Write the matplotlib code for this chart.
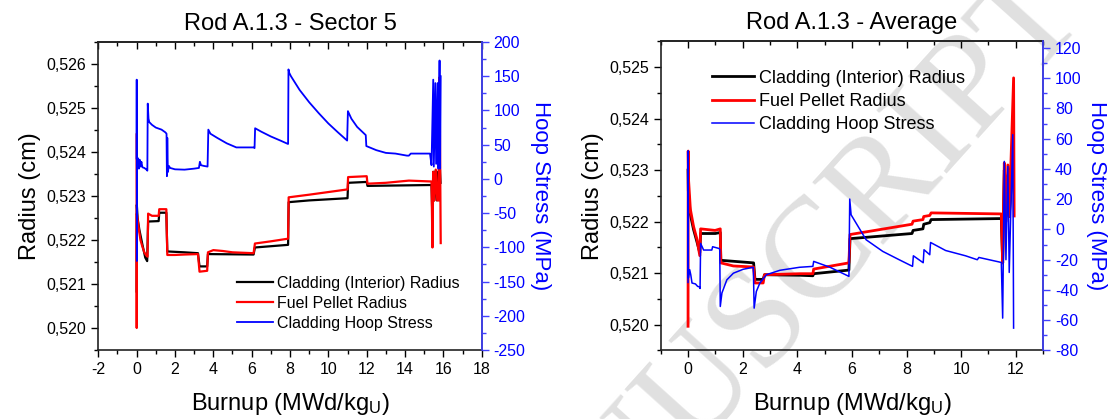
import numpy as np
import matplotlib
matplotlib.use('Agg')
import matplotlib.pyplot as plt
from matplotlib.ticker import MultipleLocator, FuncFormatter

plt.rcParams['font.family'] = ['Liberation Sans', 'DejaVu Sans']
plt.rcParams['mathtext.fontset'] = 'custom'
plt.rcParams['mathtext.rm'] = 'Liberation Sans'
plt.rcParams['mathtext.it'] = 'Liberation Sans:italic'
plt.rcParams['axes.unicode_minus'] = False

# ---- Rod A.1.3 - Sector 5 ----
s5_clad_x = [0.0, 0.01, 0.05, 0.14, 0.3, 0.45, 0.55, 0.6, 1.15, 1.18, 1.55, 1.6, 2.5, 3.2, 3.28,
             3.68, 3.72, 6.1, 6.17, 7.9, 7.93, 9.0, 11.0, 11.03, 12.0, 12.04, 15.38, 15.42,
             15.47, 15.52, 15.6, 15.66, 15.72, 15.78, 15.82, 15.85]
s5_clad_r = [0.52083, 0.5228, 0.5225, 0.52224, 0.5219, 0.5216, 0.52152, 0.52242, 0.52243, 0.52262,
             0.52262, 0.52174, 0.52172, 0.5217, 0.5214, 0.5214, 0.52168, 0.52167, 0.52183, 0.52189,
             0.52286, 0.5229, 0.52295, 0.5233, 0.52332, 0.52323, 0.52325, 0.5226, 0.52355, 0.5229,
             0.52358, 0.5229, 0.52355, 0.5229, 0.5236, 0.5233]

s5_fuel_x = [0.0, 0.005, 0.015, 0.1, 0.2, 0.3, 0.4, 0.5, 0.57, 0.6, 0.8, 1.15, 1.18, 1.55, 1.6, 2.0,
             2.5, 3.2, 3.28, 3.68, 3.72, 4.0, 4.5, 5.0, 6.1, 6.17, 7.0, 7.9, 7.93, 9.0, 11.0, 11.03,
             12.0, 12.04, 13.0, 14.2, 15.38, 15.43, 15.47, 15.53, 15.6, 15.68, 15.74, 15.8, 15.86]
s5_fuel_r = [0.5244, 0.5200, 0.5226, 0.5223, 0.5220, 0.52185, 0.52172, 0.52165, 0.52162, 0.5226,
             0.52255, 0.52255, 0.5227, 0.5227, 0.52166, 0.52166, 0.52167, 0.52168, 0.52128, 0.5213,
             0.52172, 0.52177, 0.52175, 0.52172, 0.5217, 0.52192, 0.52197, 0.52203, 0.52297,
             0.52303, 0.52315, 0.52343, 0.52345, 0.52328, 0.5233, 0.52335, 0.52333, 0.52183,
             0.52355, 0.5229, 0.5236, 0.5229, 0.5229, 0.5257, 0.52193]

s5_hoop_x = [0.0, 0.005, 0.012, 0.02, 0.05, 0.08, 0.12, 0.16, 0.2, 0.25, 0.3, 0.4, 0.5, 0.56, 0.58,
             0.62, 0.66, 0.8, 1.0, 1.2, 1.3, 1.5, 1.56, 1.58, 1.6, 1.63, 1.68, 1.75, 2.0, 2.5, 3.0,
             3.25, 3.3, 3.36, 3.5, 3.7, 3.74, 3.85, 4.2, 4.7, 5.2, 6.1, 6.15, 6.18, 6.5, 7.0, 7.5,
             7.9, 7.92, 7.96, 8.05, 8.5, 9.0, 9.5, 10.0, 10.5, 10.98, 11.02, 11.2, 11.5, 11.95,
             11.98, 12.5, 13.0, 13.5, 14.1, 14.2, 14.3, 15.3, 15.38, 15.47, 15.5, 15.58, 15.62,
             15.7, 15.74, 15.8, 15.83, 15.86]
s5_hoop_s = [30, 145, -120, 35, 20, 30, 15, 28, 18, 25, 17, 16, 14, 12, 110, 88, 83, 79, 75, 73, 72,
             68, 66, 4, 60, 10, 19, 16, 14, 13.5, 15, 16, 25, 20, 19, 18, 72, 66, 60, 52, 46, 46, 45,
             74, 69, 62, 56, 51, 160, 155, 150, 130, 112, 96, 81, 68, 56, 99, 88, 76, 64, 48, 42, 38,
             37, 34, 34, 37, 37, 20, 145, 18, 140, 22, 140, 15, 173, 15, 150]

# ---- Rod A.1.3 - Average ----
av_clad_x = [0.0, 0.01, 0.08, 0.2, 0.33, 0.43, 0.46, 1.0, 1.18, 1.2, 2.4, 2.45, 2.75, 2.8, 4.09,
             4.57, 4.6, 5.89, 5.93, 8.2, 8.24, 8.6, 8.63, 8.85, 8.9, 11.47, 11.52, 11.58, 11.64,
             11.71, 11.76, 11.9]
av_clad_r = [0.5230, 0.5226, 0.52215, 0.52185, 0.5216, 0.5214, 0.52177, 0.52177, 0.52179, 0.52125,
             0.5212, 0.52088, 0.52088, 0.52097, 0.52096, 0.52095, 0.52099, 0.52106, 0.52167,
             0.52177, 0.52183, 0.52186, 0.52195, 0.52198, 0.52204, 0.52206, 0.5212, 0.5230,
             0.5221, 0.5229, 0.5221, 0.5232]

av_fuel_x = [0.0, 0.005, 0.02, 0.085, 0.2, 0.33, 0.43, 0.46, 0.99, 1.18, 1.2, 1.66, 2.4, 2.45, 2.75,
             2.8, 4.09, 4.57, 4.6, 5.89, 5.93, 8.2, 8.24, 8.6, 8.63, 8.85, 8.9, 11.47, 11.52, 11.58,
             11.64, 11.71, 11.76, 11.82, 11.92, 11.94]
av_fuel_r = [0.51997, 0.52337, 0.5228, 0.52224, 0.52191, 0.52165, 0.52134, 0.52186, 0.52183,
             0.52186, 0.5212, 0.52114, 0.52112, 0.52081, 0.52081, 0.52097, 0.52099, 0.52099,
             0.52108, 0.5212, 0.52175, 0.52195, 0.52201, 0.52204, 0.5221, 0.52212, 0.52217,
             0.52215, 0.5212, 0.52314, 0.5220, 0.5231, 0.5221, 0.5231, 0.52479, 0.52211]

av_hoop_x = [0.0, 0.005, 0.012, 0.06, 0.1, 0.145, 0.27, 0.35, 0.42, 0.44, 0.46, 0.57, 0.87, 0.9,
             1.12, 1.16, 1.18, 1.24, 1.42, 1.66, 2.02, 2.39, 2.42, 2.5, 2.63, 2.87, 3.36, 4.08, 4.57,
             4.6, 5.2, 5.89, 5.92, 5.97, 6.52, 7.13, 7.73, 8.22, 8.25, 8.61, 8.64, 8.85, 8.88, 9.43,
             10.16, 10.59, 10.65, 11.47, 11.52, 11.58, 11.64, 11.71, 11.76, 11.89, 11.92]
av_hoop_s = [-35, 52, -32, -26.6, -30, -35.4, -36, -37.6, -38, -39, -9.2, -13.6, -13.6, -11.4, -12.5,
             -13, -50.9, -42, -33.3, -28.9, -26.3, -25, -52, -41, -35.4, -29.9, -27, -25, -24.4,
             -21.1, -25, -31, 20.1, 9.7, -6.8, -14.5, -20, -24.4, -17.4, -22, -13.4, -16.7, -8.6,
             -13.9, -17.4, -20, -18.5, -21.8, -58.6, 45, -20, 41.7, -28.4, 62.7, -65.2]

panels = [
    dict(title='Rod A.1.3 - Sector 5', rect=[0.0879, 0.1647, 0.343, 0.735],
         xlim=(-2, 18), xmajor=2, ylim=(0.5195, 0.5265), y2lim=(-250, 200), y2major=50, y2minor=25,
         clad=(s5_clad_x, s5_clad_r), fuel=(s5_fuel_x, s5_fuel_r), hoop=(s5_hoop_x, s5_hoop_s),
         lw=1.6, hlw=1.3, leg_font=11.5, leg_anchor=(0.361, 0.240), leg_pad=0.22, leg_sp=0.31),
    dict(title='Rod A.1.3 - Average', rect=[0.591, 0.1635, 0.342, 0.738],
         xlim=(-1, 13), xmajor=2, ylim=(0.5195, 0.5255), y2lim=(-80, 124.4), y2major=20, y2minor=10,
         clad=(av_clad_x, av_clad_r), fuel=(av_fuel_x, av_fuel_r), hoop=(av_hoop_x, av_hoop_s),
         lw=2.0, hlw=1.1, leg_font=13, leg_anchor=(0.135, 0.908), leg_pad=0.3, leg_sp=0.34),
]

blue = '#0000ff'
axblue = '#4040ff'
comma = FuncFormatter(lambda v, p: f'{v:.3f}'.replace('.', ','))

fig = plt.figure(figsize=(11.18, 4.19), dpi=100)
fig.patch.set_facecolor('white')

for p in panels:
    ax = fig.add_axes(p['rect'])
    ax.set_facecolor('none')
    l1, = ax.plot(*p['clad'], color='black', lw=p['lw'], label='Cladding (Interior) Radius')
    l2, = ax.plot(*p['fuel'], color='red', lw=p['lw'], label='Fuel Pellet Radius')
    ax.set_xlim(*p['xlim'])
    ax.set_ylim(*p['ylim'])
    ax.xaxis.set_major_locator(MultipleLocator(p['xmajor']))
    ax.xaxis.set_minor_locator(MultipleLocator(1))
    ax.yaxis.set_major_locator(MultipleLocator(0.001))
    ax.yaxis.set_minor_locator(MultipleLocator(0.0005))
    ax.yaxis.set_major_formatter(comma)
    ax.tick_params(which='both', direction='out', labelsize=11.5, width=1, right=False)
    ax.tick_params(which='major', length=5)
    ax.tick_params(which='minor', length=3)
    for s in ax.spines.values():
        s.set_linewidth(1.2)
        s.set_color('#222222')
    top = ax.secondary_xaxis('top')
    top.xaxis.set_major_locator(MultipleLocator(p['xmajor']))
    top.xaxis.set_minor_locator(MultipleLocator(1))
    top.tick_params(which='both', direction='in', labeltop=False, width=1)
    top.tick_params(which='major', length=5)
    top.tick_params(which='minor', length=3)
    top.spines['top'].set_linewidth(1.2)
    top.spines['top'].set_color('#222222')

    ax.set_title(p['title'], fontsize=17, pad=9)
    ax.set_xlabel('Burnup (MWd/kg$_\\mathrm{U}$)', fontsize=17, labelpad=10)
    ax.set_ylabel('Radius (cm)', fontsize=17, labelpad=4)

    ax2 = ax.twinx()
    l3, = ax2.plot(*p['hoop'], color=blue, lw=p['hlw'], label='Cladding Hoop Stress')
    ax2.set_ylim(*p['y2lim'])
    ax2.yaxis.set_major_locator(MultipleLocator(p['y2major']))
    ax2.yaxis.set_minor_locator(MultipleLocator(p['y2minor']))
    ax2.tick_params(which='both', direction='out', colors=axblue, labelcolor=blue,
                    labelsize=11.5, width=1)
    ax2.tick_params(which='major', length=5)
    ax2.tick_params(which='minor', length=3)
    ax2.spines['right'].set_color(axblue)
    ax2.spines['right'].set_linewidth(1.2)
    for k in ['left', 'top', 'bottom']:
        ax2.spines[k].set_visible(False)
    ax2.set_ylabel('Hoop Stress (MPa)', color=blue, fontsize=16, rotation=270,
                   labelpad=18)

    ax2.legend([l1, l2, l3], [l.get_label() for l in (l1, l2, l3)],
               loc='upper left', bbox_to_anchor=p['leg_anchor'], frameon=False,
               fontsize=p['leg_font'], borderpad=0, borderaxespad=0,
               handlelength=2.3, handletextpad=p['leg_pad'], labelspacing=p['leg_sp'])

# journal watermark
fig.text(0.950, 1.012, 'ACCEPTED MANUSCRIPT', rotation=48, rotation_mode='anchor',
         ha='right', va='center', fontsize=103, family='Liberation Serif',
         color='#e0e0e0', zorder=-1)

fig.savefig('out.png', dpi=100, facecolor='white')
